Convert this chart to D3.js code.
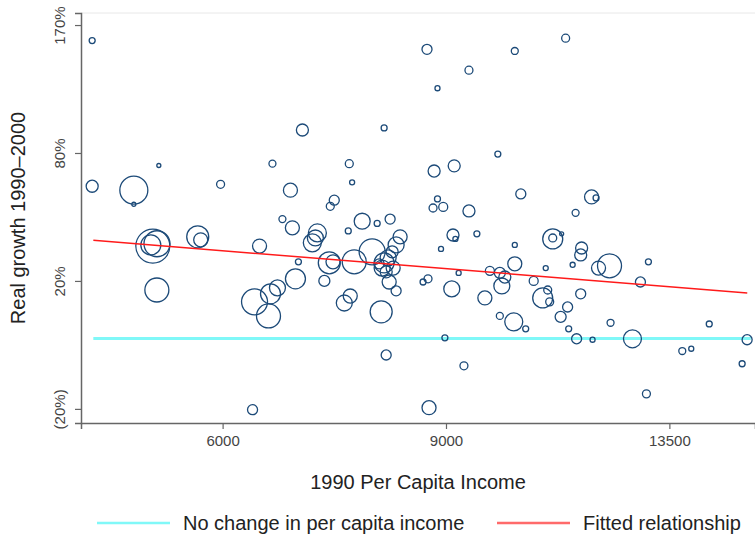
<!DOCTYPE html>
<html>
<head>
<meta charset="utf-8">
<script src="https://cdn.jsdelivr.net/npm/d3@7"></script>
<style>
  body { margin: 0; background: #fff; }
  svg { display: block; font-family: "Liberation Sans", Arial, sans-serif; }
</style>
</head>
<body>
<div id="chart"></div>
<script>
// 1990 per capita income (x), real growth 1990-2000 in % (y), population weight (bubble size)
const income = [
  4735, 4735, 5107, 5107, 5344, 5978, 5286, 5267, 5326, 5735,
  5766, 5325, 6335, 6568, 7551, 7590, 6786, 7348, 7295, 6688,
  6810, 7730, 7943, 8132, 7537, 7126, 7100, 7061, 6416, 6885,
  7282, 7331, 7619, 7871, 8281, 8221, 8162, 8103, 8044, 8015,
  8074, 8177, 8118, 7971, 8221, 7217, 6848, 6628, 6545, 6358,
  6521, 7564, 7483, 8001, 8633, 8074, 8727, 8711, 8919, 9115,
  9155, 9519, 9095, 9209, 9658, 9746, 9924, 10014, 9960, 8982,
  9298, 9383, 8955, 8791, 8862, 8808, 9135, 9888, 8695, 9383,
  8862, 6935, 8044, 10197, 11183, 10309, 11722, 11818, 11387, 10924,
  10924, 11102, 10197, 11512, 11493, 10197, 10786, 11326, 12110, 11871,
  12996, 10553, 12809, 10825, 10727, 10864, 11493, 11223, 11082, 9924,
  10178, 10401, 11245, 12133, 14513, 11408, 11743, 12625, 13820, 14047,
  15546, 15406, 12949
];
const growth = [
  157, 62, 60, 53, 73, 63, 34, 34.5, 35, 38,
  36.7, 16.6, -20.2, 74, 74, 64, 60, 55, 52, 46,
  42, 45, 44, 46, 40.6, 39.7, 37.5, 35.4, 34, 27.5,
  27.1, 27.5, 27.5, 31.6, 38, 34.5, 31.6, 29.1, 27.1, 25,
  23.5, 25, 19.6, 26.7, 16.3, 20, 20.8, 17.4, 15.2, 12.3,
  7.4, 14.4, 11.9, 8.8, 19.6, -5.1, -19.7, 20.8, 32.8, 38.8,
  37.1, 39.3, 17, 23.1, 13.7, 23.9, 23.1, 21.5, 18.1, 0.2,
  -8.3, 49.8, 51.7, 51.2, 55.6, 70, 72.8, 79.4, 150, 134,
  121, 93.6, 94.9, 148.7, 159, 58.1, 56.6, 56.1, 48.9, 37.1,
  37.5, 39.3, 34.5, 33.2, 30.3, 26.7, 25, 26.3, 25.9, 25,
  27.5, 20, 19.6, 16.6, 13.7, 12.3, 15.2, 10.5, 7.1, 7.4,
  5.4, 3.1, 3.1, 5.1, 4.7, -0.1, -0.4, -0.1, -3.9, -3.2,
  -0.4, -7.7, -16.1
];
const pop = [
  31, 125, 678, 14, 14, 55, 1000, 346, 585, 419,
  170, 498, 87, 42, 55, 22, 170, 87, 55, 42,
  170, 221, 31, 87, 31, 280, 221, 280, 170, 31,
  419, 170, 498, 585, 170, 221, 125, 221, 346, 221,
  125, 170, 170, 87, 87, 105, 346, 221, 346, 585,
  498, 170, 221, 419, 31, 87, 170, 55, 22, 125,
  22, 31, 221, 22, 170, 70, 105, 125, 221, 31,
  55, 125, 70, 55, 31, 125, 125, 31, 87, 55,
  22, 125, 31, 42, 55, 87, 170, 31, 42, 346,
  55, 14, 22, 125, 125, 170, 22, 22, 498, 170,
  31, 70, 87, 55, 346, 55, 87, 87, 105, 42,
  280, 31, 31, 42, 31, 87, 22, 280, 42, 22,
  87, 31, 55
];
// fitted relationship endpoints [income, growth %]
const fitLine = [[4745, 36.5], [15550, 15.5]];
// no-change reference line
const zeroLine = [[4745, 0], [15650, 0]];

const xTicks = [6000, 9000, 13500];
const yTicks = [170, 80, 20, -20];
const yTickLabels = ["170%", "80%", "20%", "(20%)"];
const legendItems = ["No change in per capita income", "Fitted relationship"];

//Chart dimensions
const width = 755;
const height = 537;
const margin = { top: 13, right: 0, bottom: 114, left: 81 };
const plotBottom = height - margin.bottom;

const svg = d3.select('#chart')
  .append('svg')
  .attr('width', width)
  .attr('height', height);

//Log scales: income on x, (1 + growth) on y
const xScale = d3.scaleLog()
  .domain([4640, 15770])
  .range([margin.left, width - margin.right]);
const yScale = d3.scaleLog()
  .domain([1 - 0.235, 1 + 1.805])
  .range([plotBottom, margin.top]);
const y = g => yScale(1 + g / 100);
const rScale = d3.scaleSqrt().domain([0, 1000]).range([0, 17]);

//Faint top frame
svg.append('line')
  .attr('x1', margin.left).attr('x2', width)
  .attr('y1', margin.top).attr('y2', margin.top)
  .attr('stroke', '#e8e8e8').attr('stroke-width', 1);

//X axis
const xAxis = svg.append('g')
  .attr('transform', `translate(0, ${plotBottom})`)
  .call(d3.axisBottom(xScale).tickValues(xTicks).tickFormat(d3.format('d')).tickSize(6).tickPadding(6));
//Y axis
const yAxis = svg.append('g')
  .attr('transform', `translate(${margin.left}, 0)`)
  .call(d3.axisLeft(yScale).tickValues(yTicks.map(t => 1 + t / 100))
    .tickFormat((d, i) => yTickLabels[i]).tickSize(6).tickPadding(10));

[xAxis, yAxis].forEach(ax => {
  ax.select('.domain').attr('stroke', '#666').attr('stroke-width', 1.5);
  ax.selectAll('.tick line').attr('stroke', '#666').attr('stroke-width', 1.2);
  ax.selectAll('.tick text')
    .attr('fill', '#444')
    .style('font-size', '15px')
    .style('font-family', '"Liberation Sans", Arial, sans-serif');
});
yAxis.selectAll('.tick text')
  .attr('transform', 'rotate(-90)')
  .attr('x', 0)
  .attr('y', -16)
  .attr('dy', 0)
  .style('text-anchor', 'middle');

//Reference lines
const line = d3.line().x(d => xScale(d[0])).y(d => y(d[1]));
svg.append('path')
  .datum(zeroLine)
  .attr('d', line)
  .attr('fill', 'none')
  .attr('stroke', '#80f8f8')
  .attr('stroke-width', 3);

//Bubbles
const points = income.map((v, i) => ({ income: v, growth: growth[i], pop: pop[i] }));
svg.selectAll('.dot')
  .data(points)
  .join('circle')
  .attr('class', 'dot')
  .attr('cx', d => xScale(d.income))
  .attr('cy', d => y(d.growth))
  .attr('r', d => rScale(d.pop))
  .attr('fill', 'none')
  .attr('stroke', '#1c4a78')
  .attr('stroke-width', 1.3);

svg.append('path')
  .datum(fitLine)
  .attr('d', line)
  .attr('fill', 'none')
  .attr('stroke', '#ff1a1a')
  .attr('stroke-width', 1.5);

//Axis titles
svg.append('text')
  .attr('x', (margin.left + width) / 2)
  .attr('y', 489)
  .attr('text-anchor', 'middle')
  .style('font-size', '20px')
  .attr('fill', '#222')
  .text('1990 Per Capita Income');
svg.append('text')
  .attr('transform', `translate(25, ${(margin.top + plotBottom) / 2}) rotate(-90)`)
  .attr('text-anchor', 'middle')
  .style('font-size', '20px')
  .attr('fill', '#222')
  .text('Real growth 1990\u20132000');

//Legend
const legend = svg.append('g').attr('transform', 'translate(0, 523)');
const legendColors = ['#80f8f8', '#ff6a6a'];
const legendX = [97, 497];
legendItems.forEach((label, i) => {
  legend.append('line')
    .attr('x1', legendX[i]).attr('x2', legendX[i] + 73)
    .attr('y1', 0).attr('y2', 0)
    .attr('stroke', legendColors[i])
    .attr('stroke-width', 2.5);
  legend.append('text')
    .attr('x', legendX[i] + 86)
    .attr('y', 7)
    .style('font-size', '20px')
    .attr('fill', '#222')
    .text(label);
});
</script>
</body>
</html>
